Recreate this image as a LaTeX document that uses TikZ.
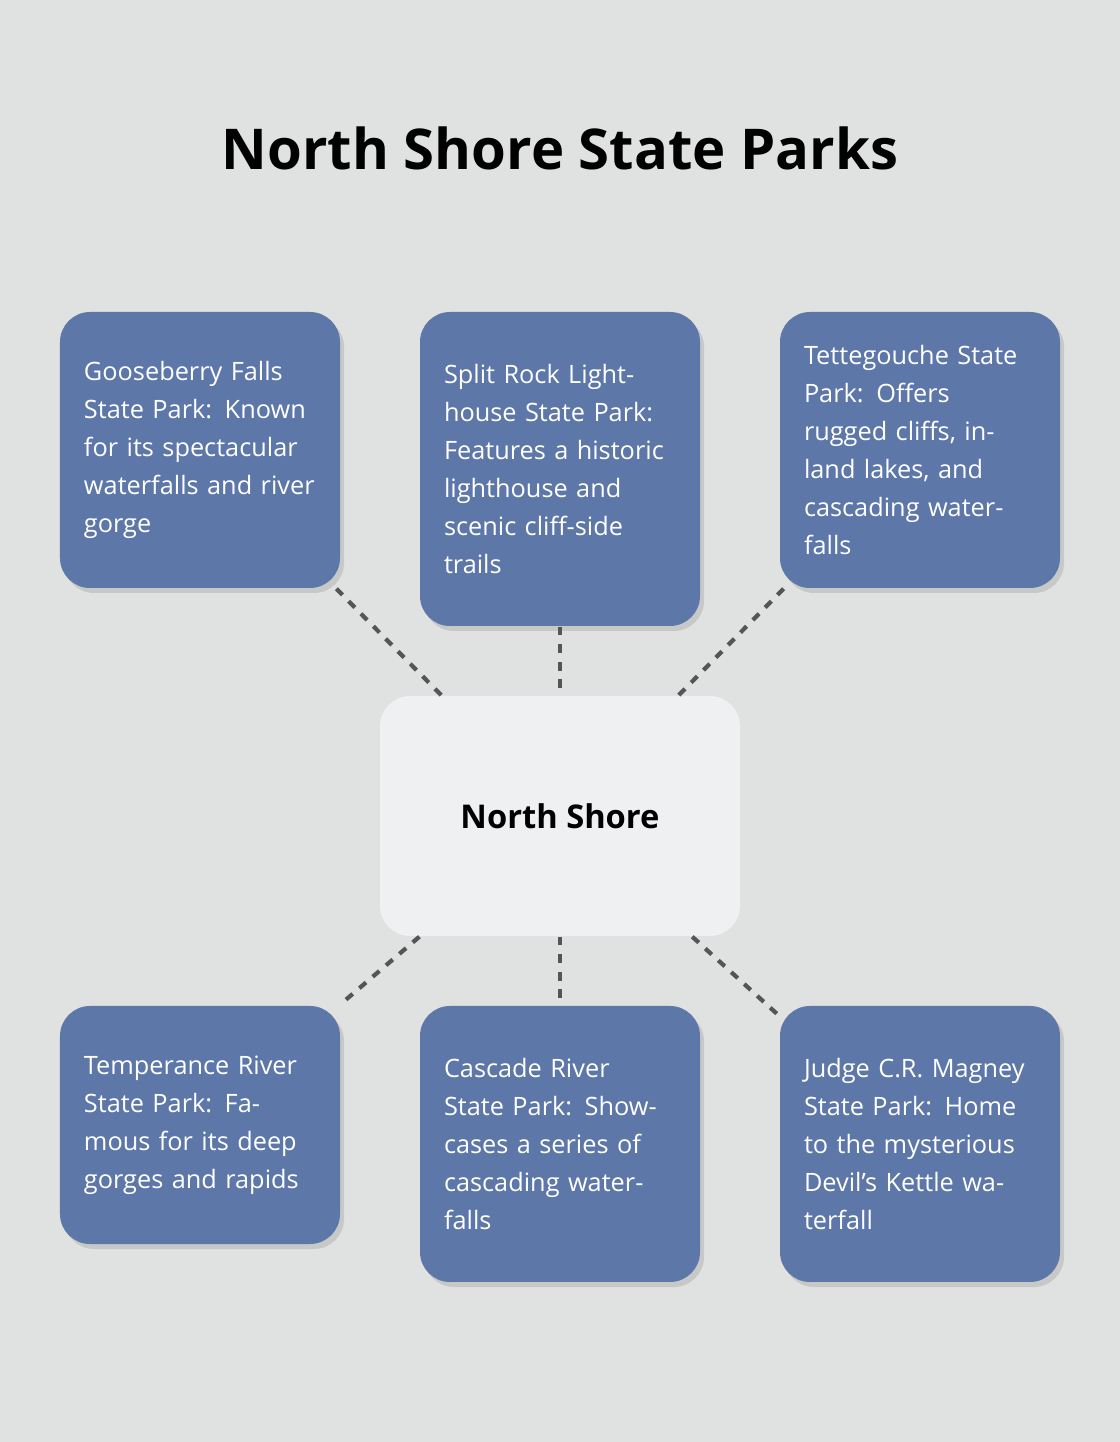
\documentclass[tikz,border=0pt]{standalone}
\usepackage{fontspec}
\setmainfont{Open Sans}
\usetikzlibrary{shadows}
\definecolor{bgcol}{HTML}{E0E2E1}
\definecolor{parkcol}{HTML}{5D77A8}
\definecolor{hubcol}{HTML}{EFF0F1}
\definecolor{linkcol}{HTML}{555555}

\begin{document}
\begin{tikzpicture}[park/.style={rectangle,rounded corners=0.3cm,fill=parkcol,text=white,text width=2.32cm,inner sep=0.24cm,align=left,minimum width=2.8cm,font=\fontsize{7.2}{10.8}\selectfont,drop shadow={opacity=0.25,shadow xshift=0.04cm,shadow yshift=-0.05cm}},link/.style={draw=linkcol,dashed,line width=1.2pt,dash pattern=on 2.5pt off 2.5pt}]
  \fill[bgcol] (0,0) rectangle (11.2,14.42);
  \useasboundingbox (0,0) rectangle (11.2,14.42);
  \node[font=\bfseries\fontsize{16}{19}\selectfont] (title) at (5.6,12.94) {North Shore State Parks};

  \node[rectangle,rounded corners=0.3cm,fill=hubcol,minimum width=3.6cm,minimum height=2.4cm,font=\bfseries\fontsize{9.3}{11}\selectfont] (ns) at (5.6,6.26) {North Shore};

  \node[park,minimum height=2.76cm] (gbf) at (2.0,9.92) {Gooseberry Falls State Park: Known for its spectacular waterfalls and river gorge};
  \node[park,minimum height=3.14cm] (srl) at (5.6,9.73) {Split Rock Lighthouse State Park: Features a historic lighthouse and scenic cliff-side trails};
  \node[park,minimum height=2.76cm] (tsp) at (9.2,9.92) {Tettegouche State Park: Offers rugged cliffs, inland lakes, and cascading waterfalls};
  \node[park,minimum height=2.38cm] (trs) at (2.0,3.17) {Temperance River State Park: Famous for its deep gorges and rapids};
  \node[park,minimum height=2.76cm] (crs) at (5.6,2.98) {Cascade River State Park: Showcases a series of cascading waterfalls};
  \node[park,minimum height=2.76cm] (jcm) at (9.2,2.98) {Judge C.R. Magney State Park: Home to the mysterious Devil's Kettle waterfall};

  \path[link]
    (gbf) edge (ns)
    (srl) edge (ns)
    (tsp) edge (ns)
    (ns) edge (trs)
    (ns) edge (crs)
    (ns) edge (jcm)
  ;
\end{tikzpicture}
\end{document}
